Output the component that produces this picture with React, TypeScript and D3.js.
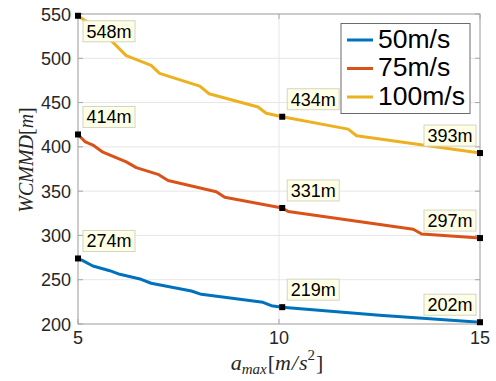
import React from "react";
import * as d3 from "d3";

// Series labels and MATLAB-style default colours
const seriesNames = ["50m/s", "75m/s", "100m/s"];
const seriesColors = ["#0072BD", "#D95319", "#EDB120"];

// 50 m/s
const x50 = [5, 5.12, 5.37, 5.79, 6.04, 6.57, 6.82, 7.82, 8.07, 9.6, 9.81, 10.08, 12.5, 15];
const y50 = [274, 271.5, 265.5, 260.2, 256.1, 250.5, 246, 237.3, 233.5, 224.5, 220.7, 219, 209.8, 202];

// 75 m/s
const x75 = [5, 5.17, 5.37, 5.62, 6.2, 6.45, 6.99, 7.24, 8.44, 8.65, 10.08, 10.23, 13.34, 13.55, 15];
const y75 = [414, 406, 402, 394, 383, 376.5, 369, 362, 349.4, 343, 331, 327, 307, 301.6, 297];

// 100 m/s
const x100 = [5, 5.45, 5.87, 6.2, 6.82, 7.03, 8.03, 8.26, 9.48, 9.68, 10.08, 11.72, 11.93, 15];
const y100 = [548, 534, 518, 503, 492, 483, 468.5, 460, 445, 438, 434, 420, 412.6, 393];

// Data tips (x positions and the values they state)
const tipX = [5, 10.08, 15];
const tip50 = [274, 219, 202];
const tip75 = [414, 331, 297];
const tip100 = [548, 434, 393];

const xTicks = [5, 10, 15];
const yTicks = [200, 250, 300, 350, 400, 450, 500, 550];

const W = 496;
const H = 381;
const left = 78;
const right = 480;
const top = 14;
const bottom = 324;

const sans = "'Liberation Sans', Arial, Helvetica, sans-serif";
const serif = "'Liberation Serif', 'Times New Roman', serif";

export default function App() {
  const x = d3.scaleLinear().domain([5, 15]).range([left, right]);
  const y = d3.scaleLinear().domain([200, 550]).range([bottom, top]);

  const series = [
    { xs: x50, ys: y50, tips: tip50 },
    { xs: x75, ys: y75, tips: tip75 },
    { xs: x100, ys: y100, tips: tip100 },
  ];

  const line = d3
    .line<[number, number]>()
    .x((d) => x(d[0]))
    .y((d) => y(d[1]));

  const boxW = 52;
  const boxH = 21;

  // Tip placement: above-right of the marker, flipped when it would leave the axes
  const tipBox = (mx: number, my: number) => {
    let bx = mx + 5;
    let by = my - 7 - boxH;
    if (by < top) by = my + 5;
    if (bx + boxW > right) bx = mx - 4 - boxW;
    return { bx, by };
  };

  const tickLen = 5;

  return (
    <svg
      width={W}
      height={H}
      style={{ position: "absolute", left: 0, top: 0, background: "#fff" }}
    >
      {/* grid */}
      <g stroke="#e6e6e6" strokeWidth={1}>
        {yTicks.map((t) => (
          <line key={"gy" + t} x1={left} x2={right} y1={y(t)} y2={y(t)} />
        ))}
        {xTicks.map((t) => (
          <line key={"gx" + t} x1={x(t)} x2={x(t)} y1={top} y2={bottom} />
        ))}
      </g>

      {/* curves */}
      {series.map((s, i) => (
        <path
          key={"s" + i}
          d={line(s.xs.map((v, j) => [v, s.ys[j]] as [number, number])) || ""}
          fill="none"
          stroke={seriesColors[i]}
          strokeWidth={3}
          strokeLinejoin="round"
        />
      ))}

      {/* axes box and ticks */}
      <rect
        x={left}
        y={top}
        width={right - left}
        height={bottom - top}
        fill="none"
        stroke="#a6a6a6"
        strokeWidth={1}
      />
      <g stroke="#a6a6a6" strokeWidth={1}>
        {yTicks.map((t) => (
          <g key={"ty" + t}>
            <line x1={left} x2={left + tickLen} y1={y(t)} y2={y(t)} />
            <line x1={right} x2={right - tickLen} y1={y(t)} y2={y(t)} />
          </g>
        ))}
        {xTicks.map((t) => (
          <g key={"tx" + t}>
            <line x1={x(t)} x2={x(t)} y1={bottom} y2={bottom - tickLen} />
            <line x1={x(t)} x2={x(t)} y1={top} y2={top + tickLen} />
          </g>
        ))}
      </g>

      {/* tick labels */}
      <g fontFamily={sans} fontSize={18} fill="#262626">
        {yTicks.map((t) => (
          <text
            key={"ly" + t}
            x={left - 7}
            y={y(t) + 6.5}
            textAnchor="end"
          >
            {t}
          </text>
        ))}
        {xTicks.map((t) => (
          <text key={"lx" + t} x={x(t)} y={bottom + 20} textAnchor="middle">
            {t}
          </text>
        ))}
      </g>

      {/* axis titles */}
      <text
        transform={`translate(33,160) rotate(-90)`}
        textAnchor="middle"
        fontFamily={serif}
        fontSize={20}
        fill="#262626"
      >
        <tspan fontStyle="italic">WCMMD</tspan>
        <tspan>[</tspan>
        <tspan fontStyle="italic">m</tspan>
        <tspan>]</tspan>
      </text>
      <text
        x={277}
        y={370}
        textAnchor="middle"
        fontFamily={serif}
        fontSize={22}
        fill="#262626"
      >
        <tspan fontStyle="italic">a</tspan>
        <tspan fontStyle="italic" fontSize={15} dy={4}>max</tspan>
        <tspan dy={-4} dx={1}>[</tspan>
        <tspan fontStyle="italic">m</tspan>
        <tspan fontStyle="italic" dx={1}>/</tspan>
        <tspan fontStyle="italic" dx={1}>s</tspan>
        <tspan fontSize={15} dy={-10}>2</tspan>
        <tspan dy={10} dx={1}>]</tspan>
      </text>

      {/* data tips */}
      {series.map((s, i) =>
        tipX.map((tx, j) => {
          const mx = x(tx);
          const my = y(s.tips[j]);
          const { bx, by } = tipBox(mx, my);
          return (
            <g key={`tip${i}-${j}`}>
              <rect
                x={bx}
                y={by}
                width={boxW}
                height={boxH}
                fill="#ffffe6"
                stroke="#d4d4c4"
                strokeWidth={1}
              />
              <text
                x={bx + boxW / 2}
                y={by + boxH - 4}
                textAnchor="middle"
                fontFamily={sans}
                fontSize={18}
                fill="#000"
              >
                {`${s.tips[j]}m`}
              </text>
              <rect x={mx - 3} y={my - 3} width={6} height={6} fill="#000" />
            </g>
          );
        })
      )}

      {/* legend */}
      <g>
        <rect
          x={341}
          y={23.5}
          width={129}
          height={90}
          fill="#fff"
          stroke="#6b6b6b"
          strokeWidth={1}
        />
        {seriesNames.map((name, i) => {
          const ly = 40 + i * 28.5;
          return (
            <g key={"lg" + i}>
              <line
                x1={347}
                x2={373}
                y1={ly}
                y2={ly}
                stroke={seriesColors[i]}
                strokeWidth={3}
              />
              <text
                x={378}
                y={ly + 7.5}
                fontFamily={sans}
                fontSize={26.5}
                fill="#000"
              >
                {name}
              </text>
            </g>
          );
        })}
      </g>
    </svg>
  );
}
